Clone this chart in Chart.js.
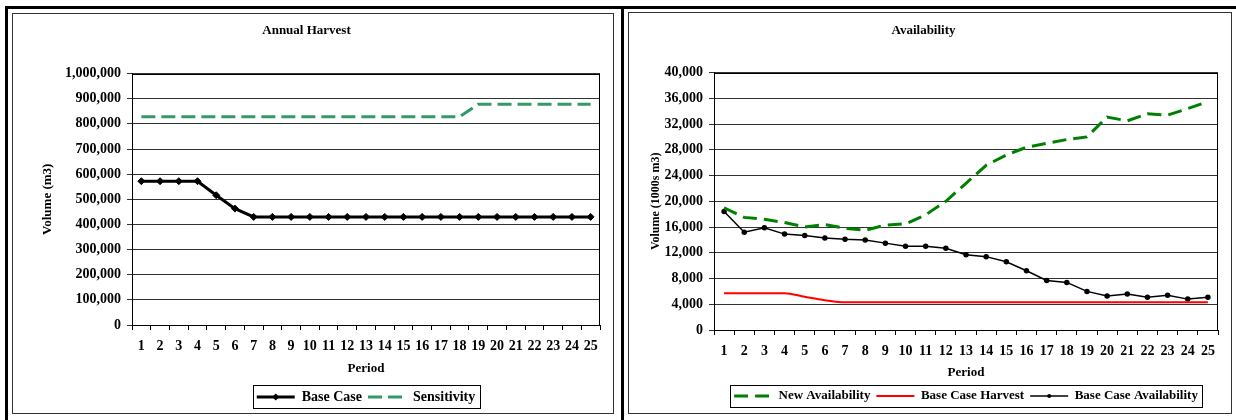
<!DOCTYPE html>
<html>
<head>
<meta charset="utf-8">
<title>Annual Harvest / Availability</title>
<script src="https://cdn.jsdelivr.net/npm/chart.js@4.4.0/dist/chart.umd.min.js"></script>
<style>
  html, body { margin: 0; padding: 0; background: #fff; width: 1236px; height: 420px; overflow: hidden; }
  .outer { position: absolute; border: 3px solid #000; box-sizing: border-box; }
  .inner { position: absolute; border: 1px solid #333; box-sizing: border-box; }
  .wrap { position: absolute; }
</style>
</head>
<body>
<div class="outer" style="left:5px;top:6px;width:619px;height:430px"></div>
<div class="outer" style="left:621px;top:6px;width:620px;height:430px"></div>
<div class="inner" style="left:12px;top:13px;width:602px;height:401px"></div>
<div class="inner" style="left:628px;top:12px;width:604px;height:402px"></div>
<div class="wrap" style="left:13px;top:14px;width:599px;height:400px"><canvas id="harvestChart"></canvas></div>
<div class="wrap" style="left:629px;top:13px;width:601px;height:401px"><canvas id="availChart"></canvas></div>

<script>
// periods on the x axis (both charts)
const periods = ['1','2','3','4','5','6','7','8','9','10','11','12','13','14','15','16','17','18','19','20','21','22','23','24','25'];

// Annual Harvest (m3)
const baseCase = [572000, 572000, 572000, 572000, 516000, 463000, 430000, 430000, 430000, 430000,
  430000, 430000, 430000, 430000, 430000, 430000, 430000, 430000, 430000, 430000,
  430000, 430000, 430000, 430000, 430000];
const sensitivity = [828000, 828000, 828000, 828000, 828000, 828000, 828000, 828000, 828000, 828000,
  828000, 828000, 828000, 828000, 828000, 828000, 828000, 828000, 878000, 878000,
  878000, 878000, 878000, 878000, 878000];
const harvestTicks = [0, 100000, 200000, 300000, 400000, 500000, 600000, 700000, 800000, 900000, 1000000];

// Availability (1000s m3)
const newAvailability = [19000, 17500, 17200, 16700, 16000, 16400, 15800, 15500, 16300, 16500,
  17900, 20000, 22800, 25600, 27200, 28400, 29000, 29600, 30000, 33100,
  32500, 33600, 33400, 34400, 35500];
const baseHarvest = [5720, 5720, 5720, 5720, 5160, 4630, 4300, 4300, 4300, 4300,
  4300, 4300, 4300, 4300, 4300, 4300, 4300, 4300, 4300, 4300,
  4300, 4300, 4300, 4300, 4300];
const baseAvailability = [18400, 15200, 15900, 14900, 14700, 14300, 14100, 14000, 13500, 13000,
  13000, 12700, 11700, 11400, 10600, 9200, 7700, 7400, 6000, 5300,
  5600, 5100, 5400, 4800, 5100];
const availTicks = [0, 4000, 8000, 12000, 16000, 20000, 24000, 28000, 32000, 36000, 40000];

Chart.defaults.font.family = "'Liberation Serif', 'Times New Roman', serif";
Chart.defaults.font.weight = 'bold';
Chart.defaults.font.size = 13;
Chart.defaults.color = '#000';

// black frame round the plot area
const plotFrame = {
  id: 'plotFrame',
  beforeDatasetsDraw(chart) {
    const a = chart.chartArea;
    const ctx = chart.ctx;
    ctx.save();
    ctx.strokeStyle = '#000';
    ctx.lineWidth = 1;
    ctx.strokeRect(Math.round(a.left) + 0.5, Math.round(a.top) + 0.5, Math.round(a.right - a.left) - 1, Math.round(a.bottom - a.top));
    ctx.restore();
  }
};

// box round the legend + the markers on the legend lines
const legendBox = {
  id: 'legendBox',
  afterDraw(chart) {
    const lg = chart.legend;
    if (!lg || !lg.legendHitBoxes || !lg.legendHitBoxes.length) return;
    const boxes = lg.legendHitBoxes;
    const ctx = chart.ctx;
    const l = Math.min(...boxes.map(b => b.left));
    const r = Math.max(...boxes.map(b => b.left + b.width));
    const t = Math.min(...boxes.map(b => b.top));
    const bt = Math.max(...boxes.map(b => b.top + b.height));
    ctx.save();
    ctx.strokeStyle = '#000';
    ctx.lineWidth = 1;
    ctx.strokeRect(Math.round(l - 4) + 0.5, Math.round(t - 5) + 0.5, Math.round(r - l + 8), Math.round(bt - t + 9));
    lg.legendItems.forEach((item, i) => {
      const ds = chart.data.datasets[item.datasetIndex];
      if (!ds.pointRadius) return;
      const b = boxes[i];
      const cx = b.left + lg.options.labels.pointStyleWidth / 2;
      const cy = b.top + b.height / 2;
      const rad = ds.pointRadius;
      ctx.fillStyle = ds.borderColor;
      ctx.beginPath();
      if (ds.pointStyle === 'rectRot') {
        ctx.moveTo(cx, cy - rad);
        ctx.lineTo(cx + rad, cy);
        ctx.lineTo(cx, cy + rad);
        ctx.lineTo(cx - rad, cy);
        ctx.closePath();
      } else {
        ctx.arc(cx, cy, rad, 0, Math.PI * 2);
      }
      ctx.fill();
    });
    ctx.restore();
  }
};

function fmt(v) {
  return Number(v).toLocaleString('en-US');
}

// legend samples take the dataset's own line width and dash
function legendLabels(chart) {
  const items = Chart.defaults.plugins.legend.labels.generateLabels(chart);
  items.forEach(it => {
    const ds = chart.data.datasets[it.datasetIndex];
    it.lineWidth = ds.borderWidth;
    it.lineDash = ds.borderDash || [];
    it.strokeStyle = ds.borderColor;
  });
  return items;
}

const tickFont = { size: 14 };

// Annual Harvest chart
const harvestChart = new Chart(document.getElementById('harvestChart'), {
  type: 'line',
  data: {
    labels: periods,
    datasets: [{
      label: 'Base Case',
      data: baseCase,
      borderColor: '#000',
      backgroundColor: '#000',
      borderWidth: 3,
      pointStyle: 'rectRot',
      pointRadius: 3.5,
      pointBackgroundColor: '#000',
      pointBorderWidth: 1
    }, {
      label: 'Sensitivity',
      data: sensitivity,
      borderColor: '#339966',
      backgroundColor: '#339966',
      borderWidth: 3,
      borderDash: [14, 6],
      pointRadius: 0
    }]
  },
  options: {
    responsive: true,
    maintainAspectRatio: false,
    animation: false,
    devicePixelRatio: 1,
    layout: { padding: { left: 0, right: 12, top: 0, bottom: 0 } },
    scales: {
      x: {
        type: 'category',
        offset: true,
        grid: { offset: true, drawOnChartArea: false, drawTicks: true, tickLength: 5, color: '#000' },
        border: { color: '#000' },
        ticks: { autoSkip: false, maxRotation: 0, padding: 8, font: tickFont },
        title: { display: true, text: 'Period', padding: { top: 0, bottom: 8 } },
        afterFit(scale) { scale.height = 59; }
      },
      y: {
        min: 0,
        max: 1000000,
        afterBuildTicks(scale) { scale.ticks = harvestTicks.map(v => ({ value: v })); },
        grid: { color: '#333', tickLength: 5 },
        border: { color: '#000' },
        ticks: { padding: 6, callback: fmt, font: tickFont },
        title: { display: true, text: 'Volume (m3)', padding: { top: 27, bottom: 0 } },
        afterFit(scale) { scale.width = 119; }
      }
    },
    plugins: {
      title: { display: true, text: 'Annual Harvest', padding: { top: 9, bottom: 35 } },
      legend: {
        position: 'bottom',
        fullSize: false,
        labels: { usePointStyle: true, pointStyle: 'line', pointStyleWidth: 38, padding: 6, font: tickFont, generateLabels: legendLabels }
      },
      tooltip: { enabled: false }
    }
  },
  plugins: [plotFrame, legendBox]
});

// Availability chart
const availChart = new Chart(document.getElementById('availChart'), {
  type: 'line',
  data: {
    labels: periods,
    datasets: [{
      label: 'New Availability',
      data: newAvailability,
      borderColor: '#008000',
      backgroundColor: '#008000',
      borderWidth: 3,
      borderDash: [14, 7],
      pointRadius: 0
    }, {
      label: 'Base Case Harvest',
      data: baseHarvest,
      borderColor: '#ff0000',
      backgroundColor: '#ff0000',
      borderWidth: 2,
      pointRadius: 0,
      cubicInterpolationMode: 'monotone'
    }, {
      label: 'Base Case Availability',
      data: baseAvailability,
      borderColor: '#000',
      backgroundColor: '#000',
      borderWidth: 1.5,
      pointStyle: 'circle',
      pointRadius: 2,
      pointBackgroundColor: '#000'
    }]
  },
  options: {
    responsive: true,
    maintainAspectRatio: false,
    animation: false,
    devicePixelRatio: 1,
    layout: { padding: { left: 0, right: 12, top: 0, bottom: 1.5 } },
    scales: {
      x: {
        type: 'category',
        offset: true,
        grid: { offset: true, drawOnChartArea: false, drawTicks: true, tickLength: 5, color: '#000' },
        border: { color: '#000' },
        ticks: { autoSkip: false, maxRotation: 0, padding: 8, font: tickFont },
        title: { display: true, text: 'Period', padding: { top: 0, bottom: 3 } },
        afterFit(scale) { scale.height = 53.5; }
      },
      y: {
        min: 0,
        max: 40000,
        afterBuildTicks(scale) { scale.ticks = availTicks.map(v => ({ value: v })); },
        grid: { color: '#333', tickLength: 5 },
        border: { color: '#000' },
        ticks: { padding: 6, callback: fmt, font: tickFont },
        title: { display: true, text: 'Volume (1000s m3)', font: { size: 12 }, padding: { top: 20, bottom: 0 } },
        afterFit(scale) { scale.width = 85; }
      }
    },
    plugins: {
      title: { display: true, text: 'Availability', padding: { top: 10, bottom: 34 } },
      legend: {
        position: 'bottom',
        fullSize: false,
        labels: { usePointStyle: true, pointStyle: 'line', pointStyleWidth: 38, padding: 6, font: { size: 13 }, generateLabels: legendLabels }
      },
      tooltip: { enabled: false }
    }
  },
  plugins: [plotFrame, legendBox]
});
</script>
</body>
</html>
